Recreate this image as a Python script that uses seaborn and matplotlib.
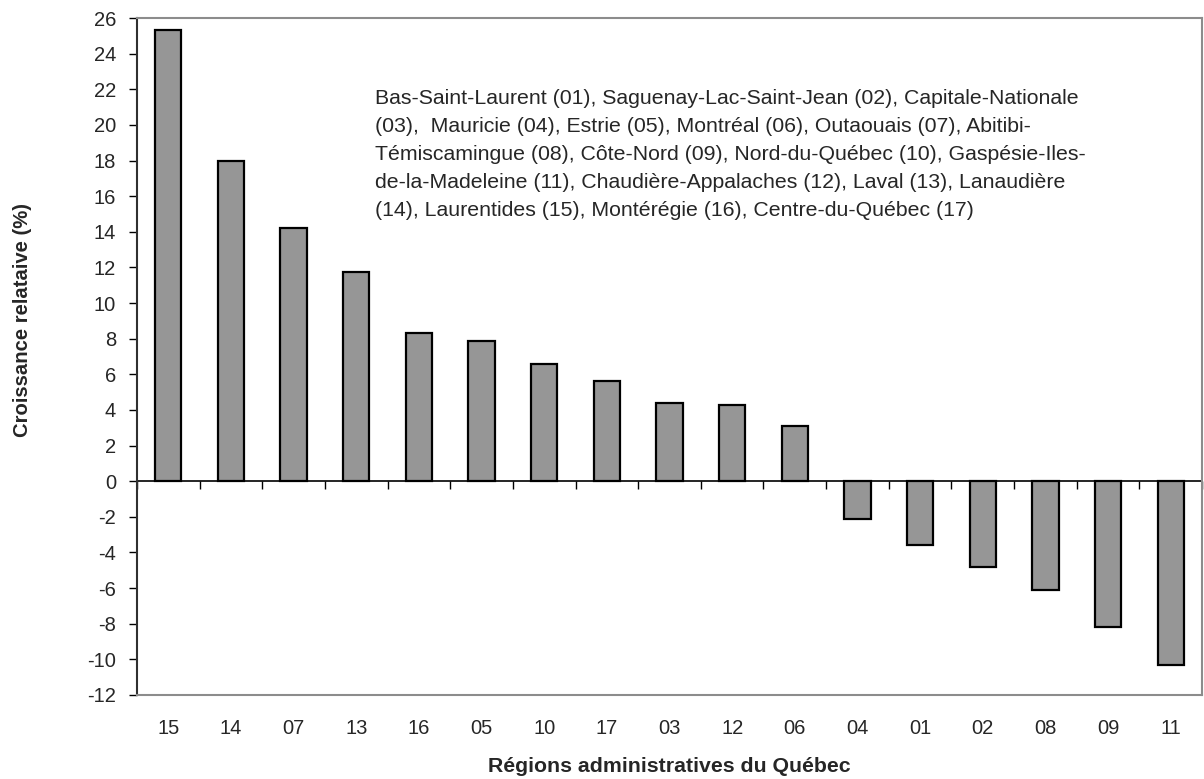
import matplotlib
matplotlib.use("Agg")
import matplotlib.pyplot as plt
import seaborn as sns
import pandas as pd
import numpy as np

# Regions (administrative codes), sorted by relative growth
regions = ["15", "14", "07", "13", "16", "05", "10", "17", "03", "12", "06",
           "04", "01", "02", "08", "09", "11"]
growth = [25.3, 18.0, 14.2, 11.75, 8.3, 7.85, 6.6, 5.6, 4.4, 4.3, 3.1,
          -2.1, -3.6, -4.8, -6.1, -8.2, -10.3]

y_ticks = list(range(-12, 27, 2))

legend_lines = [
    "Bas-Saint-Laurent (01), Saguenay-Lac-Saint-Jean (02), Capitale-Nationale",
    "(03),  Mauricie (04), Estrie (05), Montréal (06), Outaouais (07), Abitibi-",
    "Témiscamingue (08), Côte-Nord (09), Nord-du-Québec (10), Gaspésie-Iles-",
    "de-la-Madeleine (11), Chaudière-Appalaches (12), Laval (13), Lanaudière",
    "(14), Laurentides (15), Montérégie (16), Centre-du-Québec (17)",
]

sns.set_style("white")
plt.rcParams["font.family"] = ["Liberation Sans", "DejaVu Sans"]

df = pd.DataFrame({"region": regions, "growth": growth})

W, H = 1204, 779
fig = plt.figure(figsize=(W / 100, H / 100), dpi=100)
ax = fig.add_axes([137 / W, 1 - 695 / H, (1202 - 137) / W, (695 - 18) / H])

sns.barplot(data=df, x="region", y="growth", order=regions, color="#969696",
            saturation=1, width=0.42, edgecolor="black", linewidth=1.6, ax=ax)

ymin, ymax = -12, 26
ax.set_ylim(ymin, ymax)
ax.set_xlim(-0.5, len(regions) - 0.5)
ax.set_yticks(y_ticks)
ax.set_yticklabels([str(t) for t in y_ticks], fontsize=14.5)
ax.tick_params(axis="y", direction="out", length=6, width=1, color="black",
               left=True, pad=9)
ax.tick_params(axis="x", length=0, pad=17, labelsize=14.5)

# Frame: dark left axis, grey box elsewhere
for side in ["top", "right", "bottom"]:
    ax.spines[side].set_color("#8c8c8c")
    ax.spines[side].set_linewidth(1.5)
ax.spines["left"].set_color("#303030")
ax.spines["left"].set_linewidth(1.5)

# Zero line with category-boundary ticks
zero_frac = (0 - ymin) / (ymax - ymin)
sec = ax.secondary_xaxis(zero_frac)
sec.set_xticks(np.arange(-0.5, len(regions), 1.0))
sec.set_xticklabels([])
sec.tick_params(direction="out", length=6, width=1, color="black")
sec.spines["bottom"].set_color("black")
sec.spines["bottom"].set_linewidth(1.2)

ax.set_xlabel("Régions administratives du Québec", fontsize=15.3,
              fontweight="bold", labelpad=14)
ax.set_ylabel("Croissance relataive (%)", fontsize=14.6, fontweight="bold")
ax.yaxis.set_label_coords((32 - 137) / 1065, (695 - 320) / 677)

fig.text(375 / W, 1 - 89 / H, "\n".join(legend_lines), fontsize=15.3,
         ha="left", va="top", linespacing=1.6)

fig.savefig("out.png", dpi=100)
